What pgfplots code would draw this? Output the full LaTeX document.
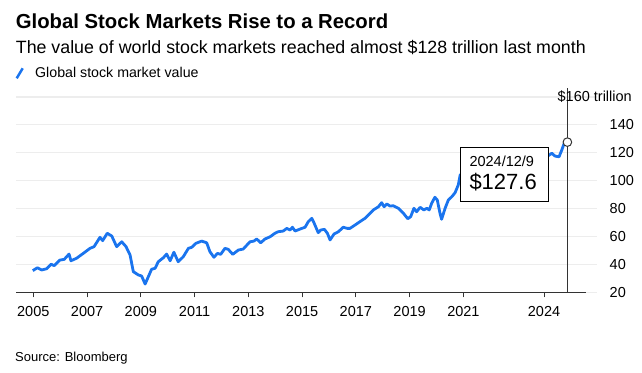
\documentclass[border=0pt]{standalone}
\usepackage{fontspec}
\setmainfont{Liberation Sans}
\usepackage{pgfplots}
\pgfplotsset{compat=1.18}
\definecolor{bblue}{HTML}{1A74EE}
\definecolor{axgray}{HTML}{333333}
\definecolor{gridgray}{HTML}{EDEDED}
\newcommand{\fs}[1]{\fontsize{#1bp}{#1bp}\selectfont}
\begin{document}
\begin{tikzpicture}
\path[use as bounding box] (0bp,0bp) rectangle (642bp,373bp);
\node[anchor=base west, inner sep=0pt, font=\fs{20.3}\bfseries] at (15.7bp,344.7bp) {Global Stock Markets Rise to a Record};
\node[anchor=base west, inner sep=0pt, font=\fs{17.8}] at (15.7bp,319.7bp) {The value of world stock markets reached almost \$128 trillion last month};
\draw[bblue, line width=2.5bp] (16.7bp,294.7bp) -- (22.7bp,304.7bp);
\node[anchor=base west, inner sep=0pt, font=\fs{14.2}] at (35bp,295.7bp) {Global stock market value};
\node[anchor=base west, inner sep=0pt, font=\fs{13}] at (15bp,11.3bp) {Source: Bloomberg};
\begin{axis}[
  at={(16bp,80.7bp)}, anchor=south west, scale only axis,
  width=581bp, height=195.4bp,
  xmin=2004.356, xmax=2025.971, ymin=20, ymax=160,
  clip=false,
  axis line style={draw=none},
  xtick={2005,2007,2009,2011,2013,2015,2017,2019,2021,2024},
  xticklabels={2005,2007,2009,2011,2013,2015,2017,2019,2021,2024},
  ytick={20,40,60,80,100,120,140,160},
  yticklabels={20,40,60,80,100,120,140,{}},
  xtick pos=lower, ytick pos=right, yticklabel pos=right,
  tick align=outside, major tick length=5bp,
  xtick style={draw=axgray, line width=1bp},
  ytick style={draw=none},
  ymajorgrids=true,
  major grid style={draw=gridgray, line width=1.3bp},
  xticklabel style={font=\fs{14.5}, inner sep=0pt, anchor=north, yshift=-9bp},
  yticklabel style={font=\fs{14.5}, inner sep=0pt, anchor=west, xshift=7.5bp},
]
\draw[axgray, line width=1bp] (axis cs:2004.356,20) -- (axis cs:2025.57,20);
\addplot[bblue, line width=2.8bp, line join=round] coordinates {
(2004.98,35.5) (2005.15,37.6) (2005.31,36.0) (2005.50,36.9) (2005.66,40.1) (2005.78,39.1) (2005.99,43.1) (2006.15,43.6) (2006.33,47.4) (2006.40,42.6) (2006.61,44.4) (2006.86,47.9) (2007.11,51.5) (2007.26,52.7) (2007.48,59.4) (2007.58,57.0) (2007.75,62.3) (2007.92,60.3) (2008.10,52.7) (2008.29,56.2) (2008.45,52.7) (2008.60,46.7) (2008.72,34.8) (2008.91,32.4) (2009.03,31.7) (2009.16,25.9) (2009.28,31.2) (2009.40,36.5) (2009.53,37.2) (2009.65,41.9) (2009.84,44.8) (2009.96,47.4) (2010.09,42.6) (2010.23,48.7) (2010.39,41.9) (2010.58,45.5) (2010.77,51.5) (2010.89,52.2) (2011.05,55.1) (2011.20,56.2) (2011.26,56.7) (2011.45,55.5) (2011.57,49.1) (2011.72,45.1) (2011.85,47.9) (2011.97,47.2) (2012.13,51.5) (2012.25,50.8) (2012.42,47.2) (2012.63,50.3) (2012.81,51.0) (2013.06,56.2) (2013.21,56.7) (2013.31,58.2) (2013.46,55.5) (2013.62,58.2) (2013.81,59.8) (2013.99,62.3) (2014.11,63.4) (2014.30,63.9) (2014.43,65.8) (2014.55,64.6) (2014.64,66.6) (2014.74,63.9) (2014.92,65.3) (2015.11,66.6) (2015.23,70.6) (2015.36,73.0) (2015.44,69.9) (2015.60,62.7) (2015.69,64.6) (2015.83,65.1) (2015.94,62.3) (2016.04,57.5) (2016.19,61.8) (2016.35,63.4) (2016.53,66.6) (2016.68,65.8) (2016.78,65.8) (2016.97,68.2) (2017.15,70.6) (2017.34,73.0) (2017.53,76.6) (2017.65,79.0) (2017.84,81.3) (2017.96,84.2) (2018.05,81.3) (2018.15,83.3) (2018.27,81.8) (2018.39,82.0) (2018.58,80.2) (2018.77,76.6) (2018.93,72.7) (2019.04,74.2) (2019.16,80.2) (2019.26,77.7) (2019.39,80.9) (2019.53,79.0) (2019.64,80.2) (2019.73,79.0) (2019.82,83.8) (2019.94,88.1) (2020.03,86.1) (2020.13,76.6) (2020.19,72.3) (2020.32,80.2) (2020.44,86.1) (2020.57,88.5) (2020.69,91.3) (2020.81,96.9) (2020.88,104.0) (2021.0,106) (2021.2,110) (2021.4,114) (2021.6,117) (2021.8,118) (2021.95,120) (2022.1,113) (2022.3,104) (2022.45,96) (2022.6,100) (2022.78,90) (2022.9,95) (2023.0,98) (2023.2,102) (2023.45,106) (2023.6,109) (2023.8,101) (2023.95,110) (2024.04,115) (2024.10,117.1) (2024.29,119.6) (2024.41,117.6) (2024.56,117.1) (2024.66,121.9) (2024.74,126.2) (2024.87,127.6)
};
\draw[axgray, line width=1bp] (axis cs:2024.87,20) -- (axis cs:2024.87,166.3);
\addplot[only marks, mark=*, mark size=4.3bp, mark options={fill=white, draw=axgray, line width=1bp}] coordinates {(2024.87,127.6)};
\end{axis}
\node[anchor=base east, inner sep=0pt, font=\fs{14.5}] at (632bp,271.3bp) {\$160 trillion};
\draw[fill=white, draw=black, line width=0.9bp] (460.7bp,172bp) rectangle (548.7bp,225.7bp);
\node[anchor=base west, inner sep=0pt, font=\fs{14.5}] at (469.3bp,206.3bp) {2024/12/9};
\node[anchor=base west, inner sep=0pt, font=\fs{22}] at (469.3bp,183bp) {\$127.6};
\end{tikzpicture}
\end{document}
